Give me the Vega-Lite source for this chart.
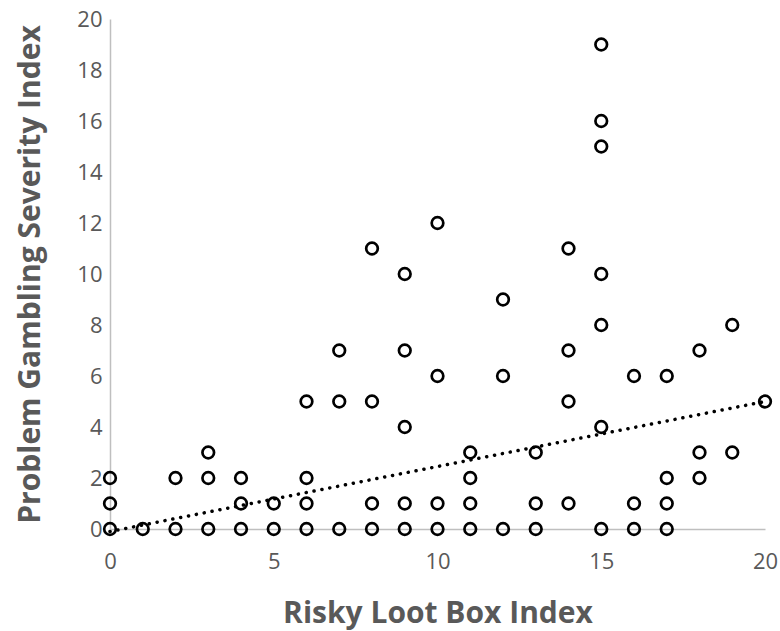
{
  "$schema": "https://vega.github.io/schema/vega-lite/v6.json",
  "autosize": "none",
  "width": 655,
  "height": 510,
  "padding": {"left": 110, "top": 19, "right": 15, "bottom": 102},
  "background": "white",
  "config": {
    "view": {"stroke": null},
    "font": "Open Sans",
    "axis": {
      "grid": false,
      "ticks": false,
      "domainColor": "#bfbfbf",
      "domainWidth": 1.5,
      "labelColor": "#595959",
      "labelFont": "Open Sans",
      "labelFontSize": 22,
      "titleColor": "#595959",
      "titleFont": "Open Sans",
      "titleFontSize": 30,
      "titleFontWeight": "bold"
    }
  },
  "datasets": {
    "points": [
      {"loot": 0, "pgsi": 0}, {"loot": 0, "pgsi": 1}, {"loot": 0, "pgsi": 2},
      {"loot": 1, "pgsi": 0},
      {"loot": 2, "pgsi": 0}, {"loot": 2, "pgsi": 2},
      {"loot": 3, "pgsi": 0}, {"loot": 3, "pgsi": 2}, {"loot": 3, "pgsi": 3},
      {"loot": 4, "pgsi": 0}, {"loot": 4, "pgsi": 1}, {"loot": 4, "pgsi": 2},
      {"loot": 5, "pgsi": 0}, {"loot": 5, "pgsi": 1},
      {"loot": 6, "pgsi": 0}, {"loot": 6, "pgsi": 1}, {"loot": 6, "pgsi": 2}, {"loot": 6, "pgsi": 5},
      {"loot": 7, "pgsi": 0}, {"loot": 7, "pgsi": 5}, {"loot": 7, "pgsi": 7},
      {"loot": 8, "pgsi": 0}, {"loot": 8, "pgsi": 1}, {"loot": 8, "pgsi": 5}, {"loot": 8, "pgsi": 11},
      {"loot": 9, "pgsi": 0}, {"loot": 9, "pgsi": 1}, {"loot": 9, "pgsi": 4}, {"loot": 9, "pgsi": 7}, {"loot": 9, "pgsi": 10},
      {"loot": 10, "pgsi": 0}, {"loot": 10, "pgsi": 1}, {"loot": 10, "pgsi": 6}, {"loot": 10, "pgsi": 12},
      {"loot": 11, "pgsi": 0}, {"loot": 11, "pgsi": 1}, {"loot": 11, "pgsi": 2}, {"loot": 11, "pgsi": 3},
      {"loot": 12, "pgsi": 0}, {"loot": 12, "pgsi": 6}, {"loot": 12, "pgsi": 9},
      {"loot": 13, "pgsi": 0}, {"loot": 13, "pgsi": 1}, {"loot": 13, "pgsi": 3},
      {"loot": 14, "pgsi": 1}, {"loot": 14, "pgsi": 5}, {"loot": 14, "pgsi": 7}, {"loot": 14, "pgsi": 11},
      {"loot": 15, "pgsi": 0}, {"loot": 15, "pgsi": 4}, {"loot": 15, "pgsi": 8}, {"loot": 15, "pgsi": 10},
      {"loot": 15, "pgsi": 15}, {"loot": 15, "pgsi": 16}, {"loot": 15, "pgsi": 19},
      {"loot": 16, "pgsi": 0}, {"loot": 16, "pgsi": 1}, {"loot": 16, "pgsi": 6},
      {"loot": 17, "pgsi": 0}, {"loot": 17, "pgsi": 1}, {"loot": 17, "pgsi": 2}, {"loot": 17, "pgsi": 6},
      {"loot": 18, "pgsi": 2}, {"loot": 18, "pgsi": 3}, {"loot": 18, "pgsi": 7},
      {"loot": 19, "pgsi": 3}, {"loot": 19, "pgsi": 8},
      {"loot": 20, "pgsi": 5}
    ],
    "trend": [
      {"loot": 0, "pgsi": -0.1},
      {"loot": 20, "pgsi": 5.0}
    ]
  },
  "layer": [
    {
      "data": {"name": "trend"},
      "mark": {
        "type": "line",
        "color": "black",
        "strokeWidth": 3.5,
        "strokeCap": "round",
        "strokeDash": [0.1, 7.9]
      },
      "encoding": {
        "x": {"field": "loot", "type": "quantitative"},
        "y": {"field": "pgsi", "type": "quantitative"}
      }
    },
    {
      "data": {"name": "points"},
      "mark": {
        "type": "point",
        "shape": "circle",
        "filled": false,
        "color": "black",
        "size": 135,
        "strokeWidth": 2.7,
        "opacity": 1
      },
      "encoding": {
        "x": {
          "field": "loot",
          "type": "quantitative",
          "scale": {"domain": [0, 20], "nice": false},
          "axis": {
            "title": "Risky Loot Box Index",
            "values": [0, 5, 10, 15, 20],
            "labelPadding": 22,
            "titlePadding": 26,
            "labelFlush": false
          }
        },
        "y": {
          "field": "pgsi",
          "type": "quantitative",
          "scale": {"domain": [0, 20], "nice": false},
          "axis": {
            "title": "Problem Gambling Severity Index",
            "values": [0, 2, 4, 6, 8, 10, 12, 14, 16, 18, 20],
            "labelPadding": 8,
            "titlePadding": 31,
            "labelFlush": false
          }
        }
      }
    }
  ]
}
